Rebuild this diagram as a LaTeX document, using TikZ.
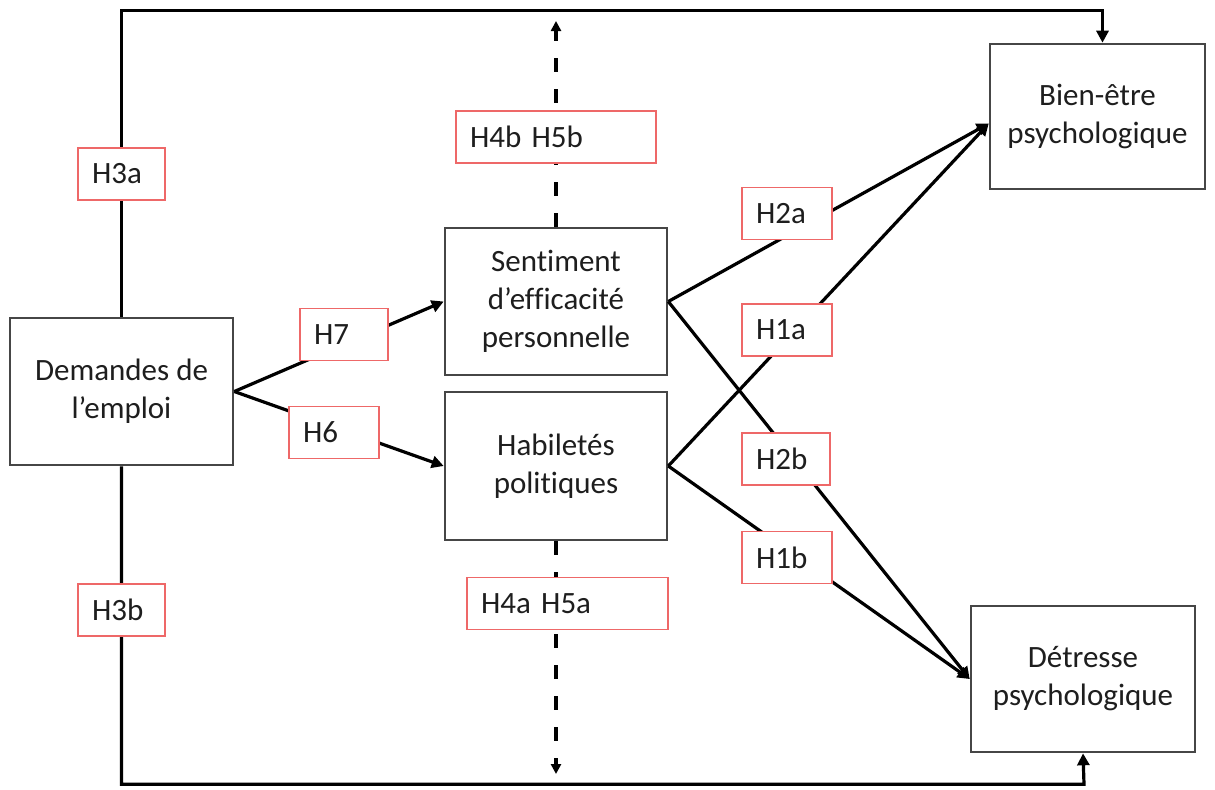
\documentclass[tikz,border=0pt]{standalone}
\usepackage{fontspec}
\setmainfont{Carlito}[Ligatures=NoCommon]
\usetikzlibrary{arrows.meta,calc}
\definecolor{labred}{RGB}{238,104,104}
\definecolor{boxgray}{RGB}{70,70,70}
\definecolor{txt}{RGB}{30,30,30}
\begin{document}
\begin{tikzpicture}[x=0.5pt,y=-0.5pt,
  every node/.style={font=\fontsize{15.5pt}{19pt}\selectfont, text=txt},
  varbox/.style={draw=boxgray, line width=1.3pt, fill=white, align=center, inner sep=0pt},
  hyp/.style={draw=labred, line width=0.9pt, fill=white, align=left, inner ysep=0pt,
    inner xsep=7pt, minimum height=26pt},
  conn/.style={line width=1.6pt, -{Triangle[length=6pt,width=6pt]}},
  dashconn/.style={line width=1.6pt, dash pattern=on 7pt off 8.5pt, -{Triangle[length=5pt,width=5pt]}}]
\useasboundingbox (0,0) rectangle (1215,789);

% variables
\node[varbox, minimum width=111.5pt, minimum height=73.5pt] (dem) at (121.5,391.5) {Demandes de\\l’emploi};
\node[varbox, minimum width=111pt, minimum height=73.5pt] (sent) at (556,301.5) {Sentiment\\d’efficacité\\personnelle};
\node[varbox, minimum width=111pt, minimum height=74pt] (hab) at (556,466) {Habiletés\\politiques};
\node[varbox, minimum width=107.5pt, minimum height=72.5pt] (bien) at (1097.5,116.5) {Bien-être\\psychologique};
\node[varbox, minimum width=112pt, minimum height=73pt] (detr) at (1083,679) {Détresse\\psychologique};

% free ends of the moderation arrows
\coordinate (dtop) at (556,21);
\coordinate (dbot) at (556,774);

% direct effects around the frame
\draw[conn] (dem.north) |- ($(bien.north)+(5,-32)$) -- ($(bien.north)+(5,0)$);
\draw[conn] (dem.south) |- ($(detr.south)+(1,31)$) -- (detr.south);

% moderation (dashed)
\draw[dashconn] (sent.north) -- (dtop);
\draw[dashconn] (hab.south) -- (dbot);

% paths
\draw[conn] (dem.east) -- (sent.west);
\draw[conn] (dem.east) -- (hab.west);
\draw[conn] (sent.east) -- ([yshift=-3.5pt]bien.west);
\draw[conn] (hab.east) -- ([yshift=-3.5pt]bien.west);
\draw[conn] (sent.east) -- (detr.west);
\draw[conn] (hab.east) -- (detr.west);

% hypothesis labels
\node[hyp, text width=29.5pt] (h3a) at (121.5,174) {H3a};
\node[hyp, text width=29.5pt] (h3b) at (121.5,610) {H3b};
\node[hyp, text width=86pt] (h4b) at (556,137) {H4b H5b};
\node[hyp, text width=86.5pt] (h4a) at (567.5,603.5) {H4a H5a};
\node[hyp, text width=30pt] (h7) at (344,334.5) {H7};
\node[hyp, text width=31pt] (h6) at (334,432.5) {H6};
\node[hyp, text width=31pt] (h2a) at (787,213.5) {H2a};
\node[hyp, text width=31pt] (h1a) at (787,330) {H1a};
\node[hyp, text width=30pt] (h2b) at (786,459) {H2b};
\node[hyp, text width=31pt] (h1b) at (787,557.5) {H1b};
\end{tikzpicture}
\end{document}
